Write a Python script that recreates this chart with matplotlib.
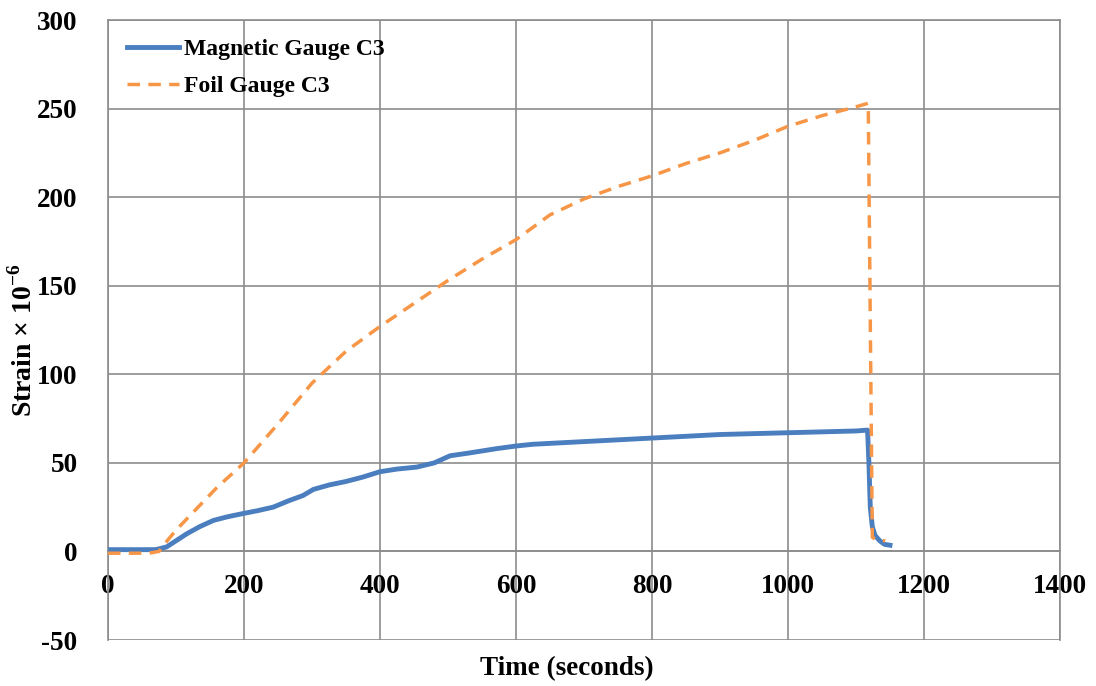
import matplotlib
matplotlib.use("Agg")
import matplotlib.pyplot as plt

# Data
mag_t = [0, 20, 40, 60, 70, 86, 100, 116, 135, 155, 175, 200, 220, 243, 265, 287, 302, 325, 350, 375,
         400, 425, 454, 480, 503, 530, 571, 600, 625, 650, 700, 750, 800, 850, 900, 950, 1000, 1050,
         1100, 1117, 1119, 1121, 1124, 1128, 1135, 1142, 1150]
mag_s = [1, 1, 1, 1, 1, 2.5, 6, 10, 14, 17.5, 19.5, 21.5, 23, 25, 28.5, 31.6, 35, 37.5, 39.5, 42,
         45, 46.5, 47.6, 50, 54, 55.5, 58, 59.5, 60.5, 61, 62, 63, 64, 65, 66, 66.5, 67, 67.5,
         68, 68.5, 50, 25, 14, 9, 6, 4, 3.5]

foil_t = [0, 30, 60, 75, 87, 100, 130, 160, 200, 250, 300, 350, 400, 450, 500, 550, 600, 650, 700, 750,
          800, 850, 900, 950, 1000, 1050, 1100, 1118, 1121, 1124, 1130, 1143]
foil_s = [-1, -1, -1, 0, 6, 12, 24, 36, 50, 72, 95, 113, 127, 140, 153, 165, 176, 190, 199, 206,
          212, 219, 225, 232, 240, 246, 251, 253, 130, 8, 6.5, 6]

xticks = [0, 200, 400, 600, 800, 1000, 1200, 1400]
yticks = [-50, 0, 50, 100, 150, 200, 250, 300]

plt.rcParams['font.family'] = ['Liberation Serif', 'DejaVu Serif']
plt.rcParams['font.weight'] = 'bold'
plt.rcParams['axes.unicode_minus'] = False
plt.rcParams['mathtext.fontset'] = 'custom'
plt.rcParams['mathtext.rm'] = 'Liberation Serif:bold'
plt.rcParams['mathtext.bf'] = 'Liberation Serif:bold'

fig = plt.figure(figsize=(10.96, 6.86), dpi=100)
ax = fig.add_axes([108/1096, 1-640/686, 952/1096, 620/686])

ax.plot(mag_t, mag_s, color='#4a7ebf', lw=3.5, label='Magnetic Gauge C3', zorder=3)
ax.plot(foil_t, foil_s, color='#f79646', lw=2.5, ls=(0, (3.6, 2.4)), label='Foil Gauge C3', zorder=4)

ax.set_xlim(0, 1400)
ax.set_ylim(-50, 300)
ax.set_xticks(xticks)
ax.set_yticks(yticks)
ax.grid(True, color='#8c8c8c', lw=1.2)
ax.set_axisbelow(True)
for side in ['top', 'right', 'left']:
    ax.spines[side].set_color('#8c8c8c')
    ax.spines[side].set_linewidth(1.2)
ax.spines['bottom'].set_position(('data', 0))
ax.spines['bottom'].set_color('#8c8c8c')
ax.spines['bottom'].set_linewidth(1.2)
ax.tick_params(length=0, labelsize=19.5)
ax.tick_params(axis='x', pad=16)
ax.tick_params(axis='y', pad=22)
for lab in ax.get_xticklabels() + ax.get_yticklabels():
    lab.set_fontweight('bold')

ax.set_xlabel('Time (seconds)', fontsize=19.5, fontweight='bold')
ax.xaxis.set_label_coords((567-108)/952, (640-656)/620)
ax.set_ylabel('Strain × 10$^{-6}$', fontsize=20, fontweight='bold')
ax.yaxis.set_label_coords((38-108)/952, (640-340)/620)

leg = ax.legend(loc='upper left', bbox_to_anchor=(0.0, 1.0), frameon=False,
                prop={'family': 'Liberation Serif', 'weight': 'bold', 'size': 17},
                handlelength=2.2, handletextpad=0.2, labelspacing=0.65, borderaxespad=0.4)

fig.savefig('out.png', dpi=100)
